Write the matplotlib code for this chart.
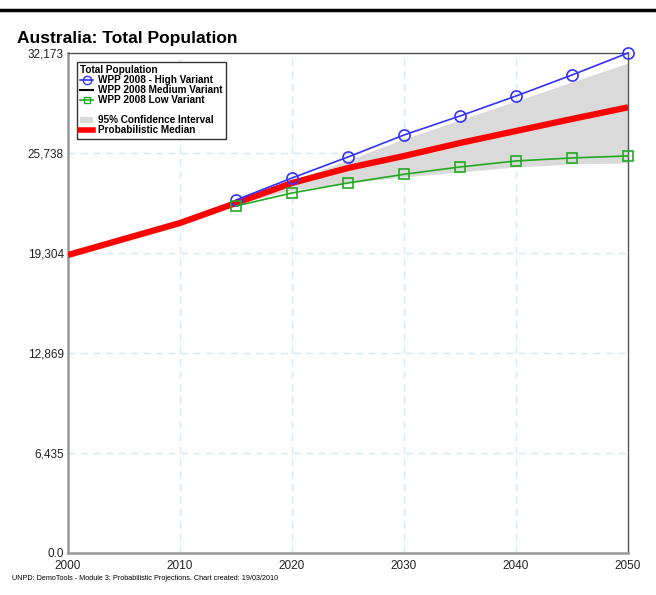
import matplotlib
matplotlib.use("Agg")
import matplotlib.pyplot as plt
from matplotlib.lines import Line2D
from matplotlib.patches import Patch

# === data (thousands) ===
median_years = [2000, 2005, 2010, 2015, 2020, 2025, 2030, 2035, 2040, 2045, 2050]
median = [19175, 20205, 21234, 22521, 23808, 24773, 25545, 26382, 27154, 27926, 28676]

proj_years = [2015, 2020, 2025, 2030, 2035, 2040, 2045, 2050]
high = [22714, 24130, 25481, 26897, 28119, 29406, 30757, 32173]
medium = [22521, 23808, 24773, 25545, 26382, 27154, 27926, 28676]
low = [22328, 23165, 23808, 24367, 24838, 25224, 25418, 25547]
ci_upper = [22585, 23937, 25288, 26639, 27862, 29084, 30307, 31530]
ci_lower = [22457, 23358, 23808, 24200, 24516, 24838, 25032, 25096]

y_ticks = [0, 6435, 12869, 19304, 25738, 32173]
y_labels = ["0.0", "6,435", "12,869", "19,304", "25,738", "32,173"]
x_ticks = [2000, 2010, 2020, 2030, 2040, 2050]

plt.rcParams['font.family'] = ['Liberation Sans', 'DejaVu Sans']

fig = plt.figure(figsize=(6.56, 5.95), dpi=100)
ax = fig.add_axes([0.1037, 0.0706, 0.8537, 0.8404])

# top rule and title
fig.add_artist(Line2D([0, 1], [0.984, 0.984], color='black', lw=2.5))
fig.text(0.026, 0.936, "Australia: Total Population", fontsize=12.5, fontweight='bold',
         va='center')
fig.text(0.018, 0.028, "UNPD: DemoTools - Module 3: Probabilistic Projections. Chart created: 19/03/2010",
         fontsize=5.2, va='center')

ax.fill_between(proj_years, ci_lower, ci_upper, color='#dadada', lw=0, zorder=1)
ax.plot(proj_years, medium, color='black', lw=1, zorder=2)
ax.plot(median_years, median, color='#ff0000', lw=4.5, zorder=3, solid_capstyle='butt')
ax.plot(proj_years, high, color='#3333ff', lw=1.2, marker='o', ms=8, mfc='none',
        mec='#3333ff', mew=1.2, zorder=4, clip_on=False)
ax.plot(proj_years, low, color='#22aa22', lw=1.2, marker='s', ms=7, mfc='none',
        mec='#22aa22', mew=1.2, zorder=4, clip_on=False)

ax.set_xlim(2000, 2050)
ax.set_ylim(0, 32173)
ax.set_xticks(x_ticks)
ax.set_xticklabels([str(x) for x in x_ticks], fontsize=8.5)
ax.set_yticks(y_ticks)
ax.set_yticklabels(y_labels, fontsize=8.5)
ax.tick_params(length=0, colors='#222222')
ax.tick_params(axis='x', pad=5)
ax.tick_params(axis='y', pad=3)

for x in x_ticks[1:-1]:
    ax.axvline(x, color='#d6e6f2', lw=1, ls=(0, (5, 4)), zorder=0)
for y in y_ticks[1:-1]:
    ax.axhline(y, color='#d6e6f2', lw=1, ls=(0, (5, 4)), zorder=0)

for side in ['left', 'bottom']:
    ax.spines[side].set_color('#999999')
    ax.spines[side].set_linewidth(1.8)
for side in ['top', 'right']:
    ax.spines[side].set_color('#555555')
    ax.spines[side].set_linewidth(1)

handles = [
    Line2D([], [], color='#3333ff', lw=1.2, marker='o', ms=6, mfc='none', mec='#3333ff'),
    Line2D([], [], color='black', lw=1.5),
    Line2D([], [], color='#22aa22', lw=1.2, marker='s', ms=5, mfc='none', mec='#22aa22'),
    Line2D([], [], color='none'),
    Patch(facecolor='#dadada', edgecolor='none'),
    Line2D([], [], color='#ff0000', lw=4),
]
labels = ["WPP 2008 - High Variant", "WPP 2008 Medium Variant", "WPP 2008 Low Variant",
          "", "95% Confidence Interval", "Probabilistic Median"]
leg = ax.legend(handles, labels, loc='upper left', bbox_to_anchor=(0.016, 0.982),
                title="Total Population", fontsize=7.2, title_fontsize=7.2,
                frameon=True, fancybox=False, edgecolor='#333333', framealpha=1,
                handlelength=1.3, handleheight=0.5, handletextpad=0.5, labelspacing=0.0,
                borderpad=0.35, borderaxespad=0)
leg.get_frame().set_linewidth(1)
leg._legend_box.align = "left"
for t in leg.get_texts():
    t.set_fontweight('bold')
leg.get_title().set_fontweight('bold')

fig.savefig("out.png", dpi=100)
